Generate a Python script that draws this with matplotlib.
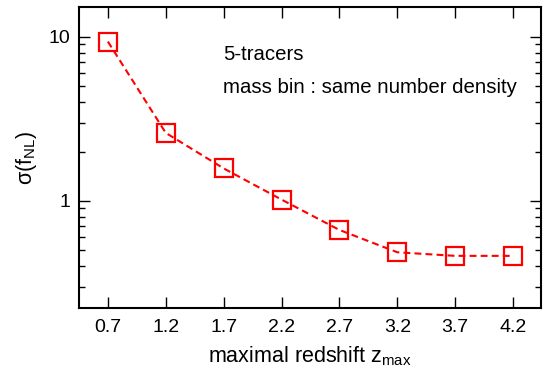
import matplotlib
matplotlib.use("Agg")
import matplotlib.pyplot as plt
from matplotlib.ticker import LogLocator, NullFormatter, FixedLocator

plt.rcParams['font.family'] = ['Liberation Sans', 'DejaVu Sans']
plt.rcParams['mathtext.fontset'] = 'custom'
plt.rcParams['mathtext.rm'] = 'Liberation Sans'
plt.rcParams['mathtext.it'] = 'Liberation Sans'

zmax = [0.7, 1.2, 1.7, 2.2, 2.7, 3.2, 3.7, 4.2]
sigma_fnl = [9.37, 2.60, 1.58, 1.02, 0.666, 0.487, 0.463, 0.463]
xtick_labels = ['0.7', '1.2', '1.7', '2.2', '2.7', '3.2', '3.7', '4.2']

fig = plt.figure(figsize=(5.48, 3.71), dpi=100)
ax = fig.add_axes([0.144, 0.170, 0.843, 0.811])

ax.plot(zmax, sigma_fnl, linestyle=(0, (3.3, 2)), color='#ff0000', linewidth=1.5, zorder=2)
ax.plot(zmax, sigma_fnl, linestyle='none', marker='s', markersize=13.5,
        markerfacecolor='none', markeredgecolor='#ff0000', markeredgewidth=1.6, zorder=3)

ax.set_yscale('log')
ax.set_xlim(0.45, 4.44)
ax.set_ylim(0.223, 15.2)

ax.set_xticks(zmax)
ax.set_xticklabels(xtick_labels)
ax.yaxis.set_major_locator(FixedLocator([1, 10]))
ax.set_yticklabels(['1', '10'])
ax.yaxis.set_minor_locator(LogLocator(base=10, subs=range(2, 10)))
ax.yaxis.set_minor_formatter(NullFormatter())

ax.tick_params(which='both', direction='in', top=True, right=True, width=1.0)
ax.tick_params(which='major', length=8, labelsize=14)
ax.tick_params(axis='x', which='major', pad=8)
ax.tick_params(axis='y', which='major', pad=6)
ax.tick_params(which='minor', length=4)
for s in ax.spines.values():
    s.set_linewidth(1.5)

ax.set_xlabel(r'maximal redshift z$_{\mathregular{max}}$', fontsize=15.5, labelpad=6)
ax.set_ylabel(r'σ(f$_{\mathregular{NL}}$)', fontsize=15.5, labelpad=7)

ax.text(0.312, 0.843, '5-tracers', transform=ax.transAxes, fontsize=14.7, va='center', ha='left')
ax.text(0.312, 0.733, 'mass bin : same number density', transform=ax.transAxes, fontsize=14.7,
        va='center', ha='left')

fig.savefig('out.png', dpi=100)
